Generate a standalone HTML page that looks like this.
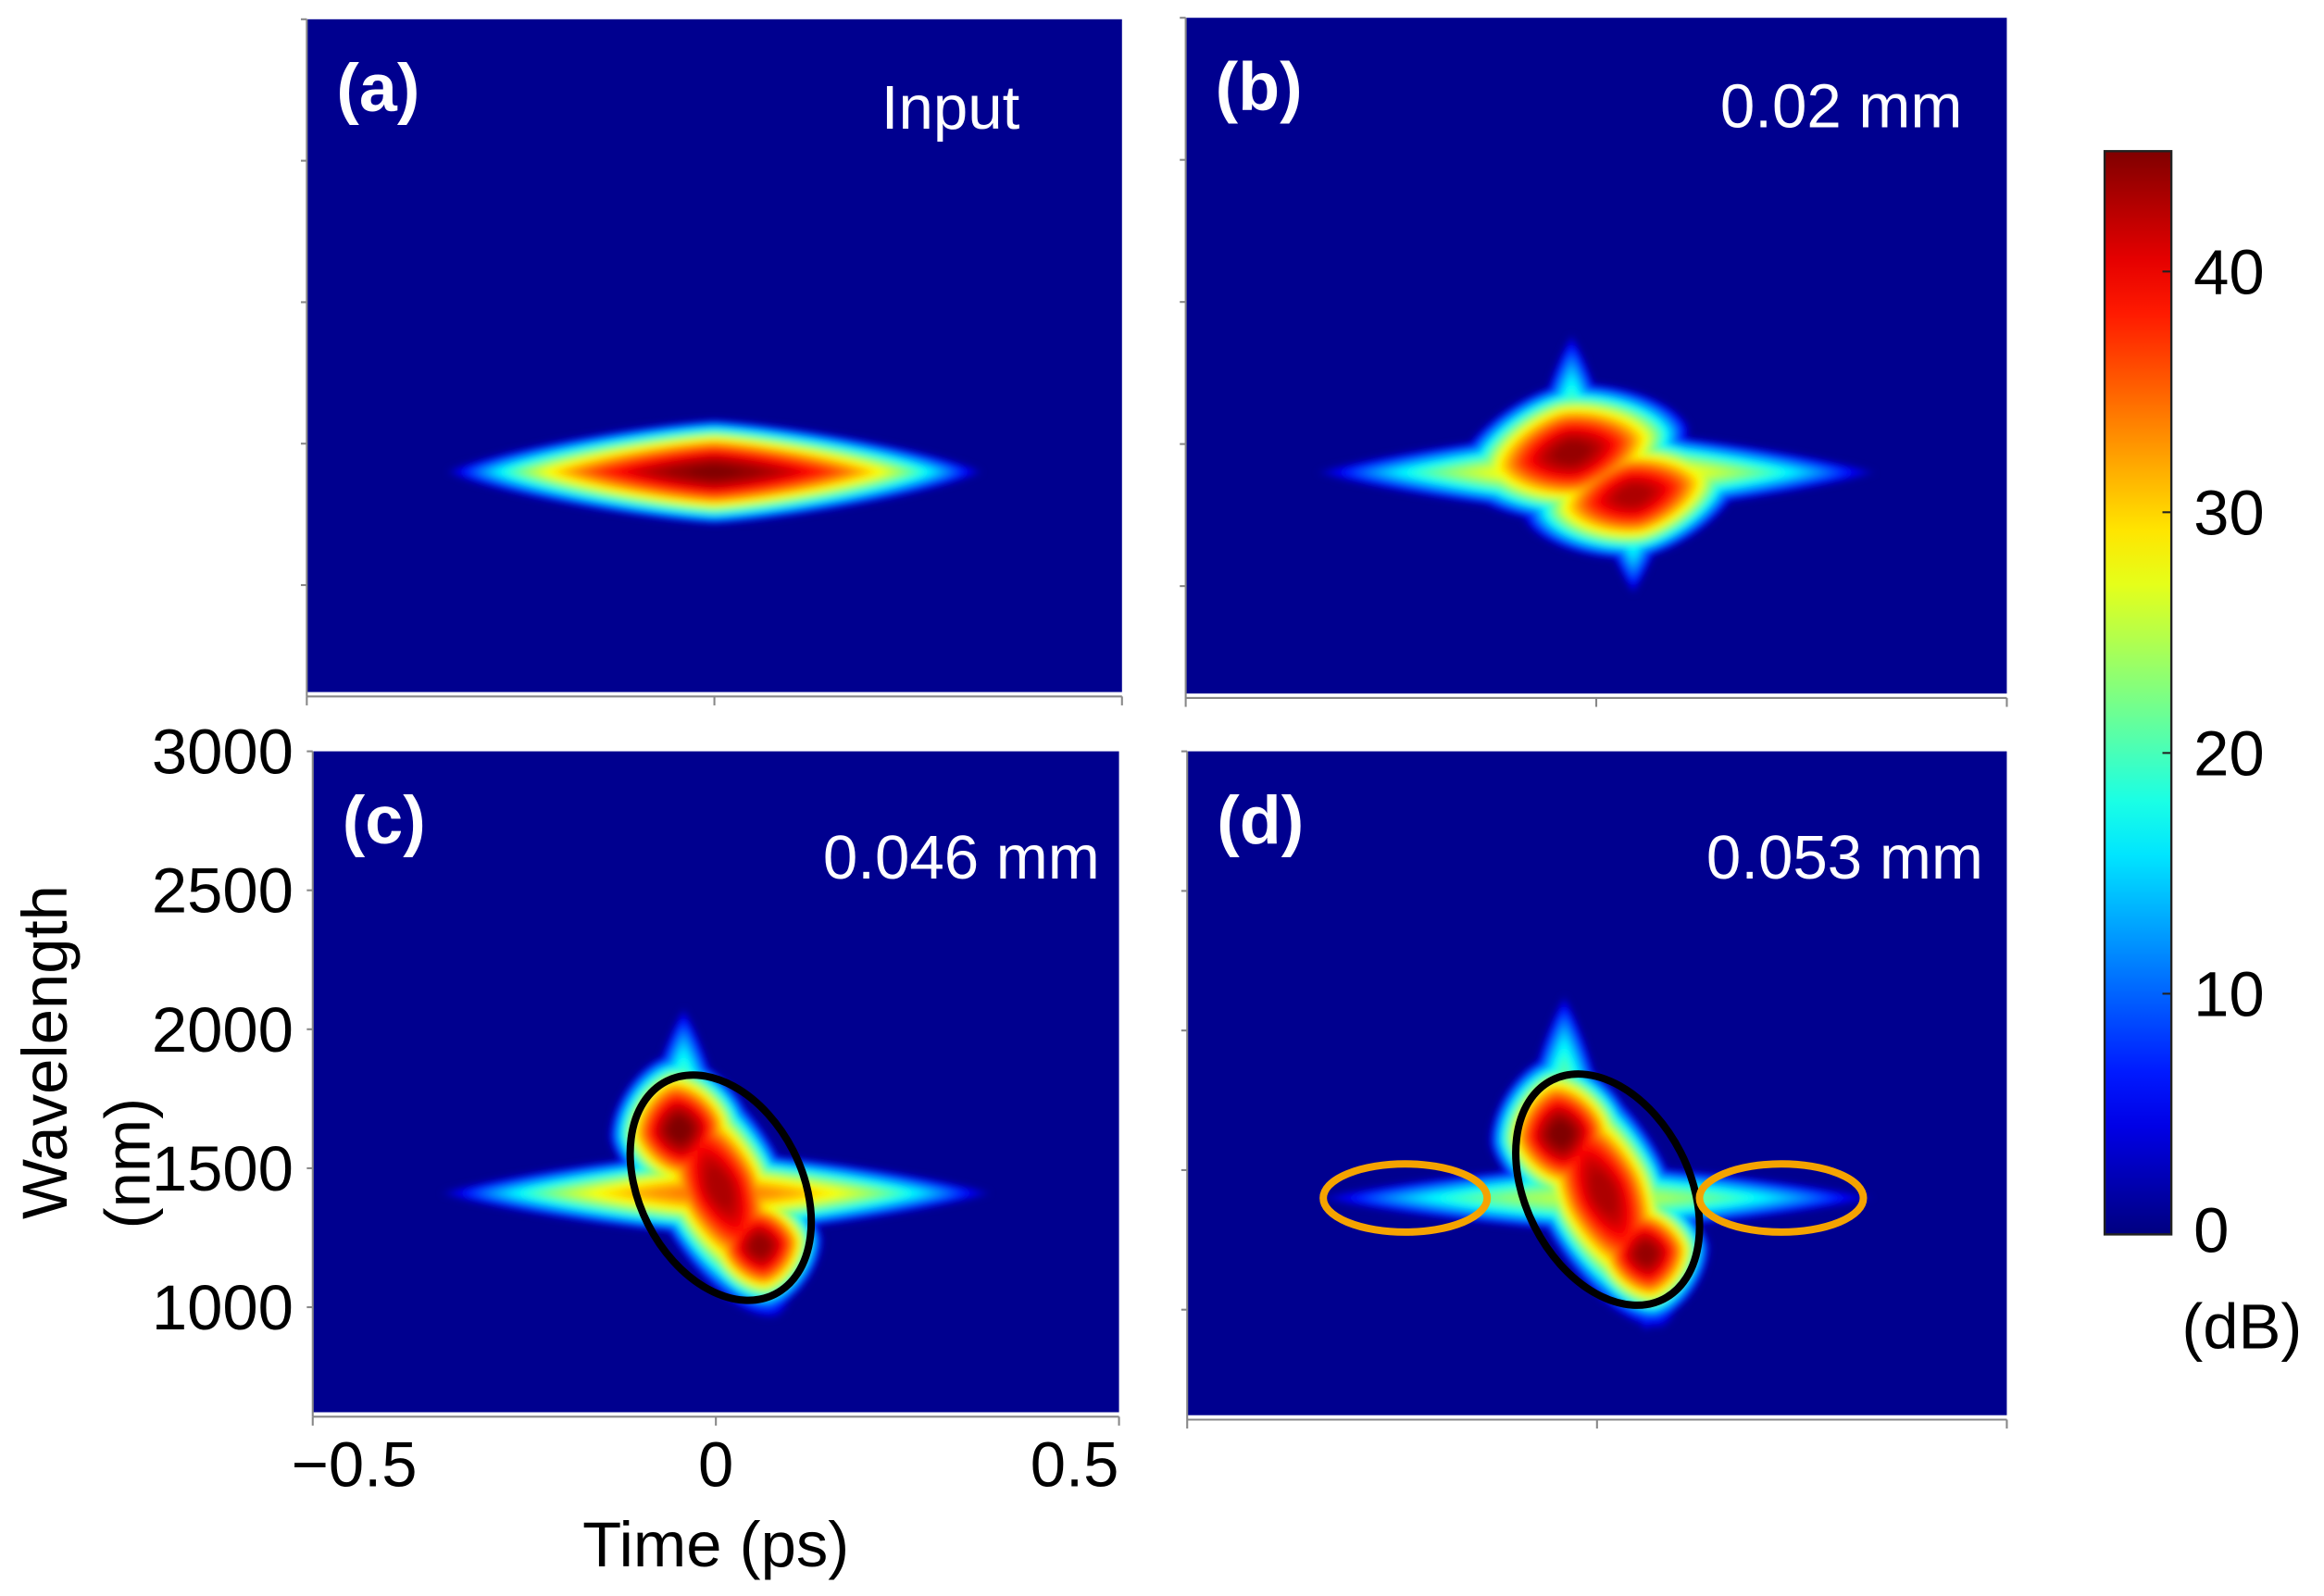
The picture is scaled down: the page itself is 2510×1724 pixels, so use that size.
<!DOCTYPE html>
<html><head><meta charset="utf-8"><style>
html,body{margin:0;padding:0;background:#fff;}
svg{display:block;font-family:"Liberation Sans",Arial,sans-serif;}
</style></head><body>
<svg id="fig" width="2510" height="1724" viewBox="0 0 1568 1077" preserveAspectRatio="none" xmlns="http://www.w3.org/2000/svg">
<defs>
<filter id="bl" x="-20%" y="-20%" width="140%" height="140%"><feGaussianBlur stdDeviation="2.4"/></filter>
<linearGradient id="cbg" x1="0" y1="1" x2="0" y2="0"></linearGradient>
</defs>
<g id="layer"></g>
</svg>
<script>
// ---- data ----
const panelIds = ['a','b','c','d'];
const panelLabels = ['(a)','(b)','(c)','(d)'];
const panelTitles = ['Input','0.02 mm','0.046 mm','0.053 mm'];
const yTicks = [1000,1500,2000,2500,3000];
const yTickLabels = ['1000','1500','2000','2500','3000'];
const xTicks = [-0.5,0,0.5];
const xTickLabels = ['\u22120.5','0','0.5'];
const cbTicks = [0,10,20,30,40];
const cbMax = 45;
// lobes per panel: t center (ps), wavelength center (nm), half-width (ps), half-height (nm), peak dB, rotation deg, shape roundness (1 = diamond, 2 = ellipse)
const lobesA_t=[0], lobesA_w=[1400], lobesA_a=[0.335], lobesA_b=[190], lobesA_pk=[45.5], lobesA_r=[0], lobesA_p=[1.3];
const lobesB_t=[0.0,-0.03,0.045,-0.03,0.045], lobesB_w=[1400,1470,1320,1560,1260], lobesB_a=[0.35,0.15,0.14,0.045,0.045], lobesB_b=[160,250,230,340,300], lobesB_pk=[32,45,44,22,22], lobesB_r=[0,-12,-12,0,0], lobesB_p=[1.25,1.6,1.6,1.2,1.2];
const lobesC_t=[0.0,0.005,-0.045,0.055,-0.04,0.05], lobesC_w=[1410,1430,1640,1220,1750,1200], lobesC_a=[0.35,0.085,0.09,0.08,0.045,0.045], lobesC_b=[160,520,280,240,340,220], lobesC_pk=[35,44,46,45,22,20], lobesC_r=[0,-24,-8,-8,0,0], lobesC_p=[1.25,1.7,1.6,1.6,1.2,1.2];
const lobesD_t=[0.0,0.008,-0.044,0.06,-0.04,0.06], lobesD_w=[1400,1420,1630,1200,1780,1150], lobesD_a=[0.35,0.085,0.09,0.08,0.045,0.045], lobesD_b=[130,540,290,250,360,240], lobesD_pk=[26,44,46,45,22,20], lobesD_r=[0,-24,-8,-8,0,0], lobesD_p=[1.25,1.7,1.6,1.6,1.2,1.2];
// annotation ellipses: panel index, t center, wavelength center, radius x (ps), radius y (nm), rotation deg, colour
const ellPanel=[2,3,3,3], ellT=[0.006,0.013,-0.234,0.225], ellW=[1430,1430,1400,1400], ellRx=[0.101,0.1,0.1,0.1], ellRy=[430,440,122,122], ellRot=[-27,-27,0,0], ellCol=['#000','#000','#f5a300','#f5a300'];

// ---- layout ----
const boxes=[{x:207,y:13,w:550,h:454},{x:800,y:12,w:554,h:456},{x:211,y:507,w:544,h:446},{x:801,y:507,w:553,h:448}];
const lamMin=622, lamMax=3000;
const lobeSets=[[lobesA_t,lobesA_w,lobesA_a,lobesA_b,lobesA_pk,lobesA_r,lobesA_p],[lobesB_t,lobesB_w,lobesB_a,lobesB_b,lobesB_pk,lobesB_r,lobesB_p],[lobesC_t,lobesC_w,lobesC_a,lobesC_b,lobesC_pk,lobesC_r,lobesC_p],[lobesD_t,lobesD_w,lobesD_a,lobesD_b,lobesD_pk,lobesD_r,lobesD_p]];
const NS='http://www.w3.org/2000/svg';
const layer=document.getElementById('layer');
function mk(tag,attrs,parent){const e=document.createElementNS(NS,tag);for(const k in attrs)e.setAttribute(k,attrs[k]);(parent||layer).appendChild(e);return e;}
function jet(v){v=Math.max(0,Math.min(1,v));const c=x=>Math.round(255*Math.max(0,Math.min(1,1.5-Math.abs(x))));return `rgb(${c(4*v-3)},${c(4*v-2)},${c(4*v-1)})`;}
function xS(b,t){return b.x+(t+0.5)*b.w;}
function yS(b,l){return b.y+(lamMax-l)/(lamMax-lamMin)*b.h;}

panelIds.forEach((pid,i)=>{
  const b=boxes[i];
  const g=mk('g',{});
  
  
  const bg=mk('rect',{x:b.x,y:b.y,width:b.w,height:b.h,fill:'#00008f'},g);
  
  
  const clipId='clip'+pid;
  const cp=mk('clipPath',{id:clipId},g);mk('rect',{x:b.x,y:b.y,width:b.w,height:b.h},cp);
  const heat=mk('g',{'clip-path':`url(#${clipId})`,filter:'url(#bl)'},g);
  
  
  const L=lobeSets[i];
  const n=L[0].length;
  const pxT=b.w, pxL=b.h/(lamMax-lamMin);
  for(let lev=2;lev<=46;lev+=1){
    for(let k=0;k<n;k++){
      const pk=L[4][k]; if(lev>=pk) continue;
      const s=Math.sqrt(1-lev/pk);
      const a=L[2][k]*pxT*s, bb=L[3][k]*pxL*s, p=L[6][k];
      const cx=xS(b,L[0][k]), cy=yS(b,L[1][k]);
      const rot=L[5][k]*Math.PI/180;
      const ex=2/p;
      let pts=[];
      for(let j=0;j<120;j++){
        const th=j/120*2*Math.PI, c=Math.cos(th), sn=Math.sin(th);
        const px=a*Math.sign(c)*Math.pow(Math.abs(c),ex), py=bb*Math.sign(sn)*Math.pow(Math.abs(sn),ex);
        const rx=px*Math.cos(rot)-py*Math.sin(rot), ry=px*Math.sin(rot)+py*Math.cos(rot);
        pts.push((cx+rx).toFixed(1)+','+(cy+ry).toFixed(1));
      }
      const poly=mk('polygon',{points:pts.join(' '),fill:jet(lev/cbMax)},heat);
      
      
    }
  }
  const ax=mk('g',{stroke:'#888','stroke-width':1.3,fill:'none'},g);
  
  
  mk('line',{x1:b.x,y1:b.y,x2:b.x,y2:b.y+b.h+3},ax);
  mk('line',{x1:b.x,y1:b.y+b.h+3,x2:b.x+b.w,y2:b.y+b.h+3},ax);
  yTicks.forEach(v=>{const y=yS(b,v);mk('line',{x1:b.x-4,y1:y,x2:b.x,y2:y},ax);});
  xTicks.forEach(v=>{const x=xS(b,v);mk('line',{x1:x,y1:b.y+b.h+3,x2:x,y2:b.y+b.h+9},ax);});
  const lab=mk('text',{x:b.x+20,y:b.y+62,fill:'#fff','font-size':46,'font-weight':'bold'},g);
  lab.textContent=panelLabels[i];
  
  
  const tt=mk('text',{x:b.x+b.w-(i==0?69:i==2?13:i==1?30:16),y:b.y+(i<2?74:86),fill:'#fff','font-size':42,'text-anchor':'end'},g);
  tt.textContent=panelTitles[i];
  
  
});
ellPanel.forEach((pi,k)=>{
  const b=boxes[pi];
  const cx=xS(b,ellT[k]), cy=yS(b,ellW[k]);
  const e=mk('ellipse',{cx:cx,cy:cy,rx:(ellRx[k]*b.w).toFixed(1),ry:(ellRy[k]*b.h/(lamMax-lamMin)).toFixed(1),transform:`rotate(${ellRot[k]} ${cx} ${cy})`,fill:'none',stroke:ellCol[k],'stroke-width':5});
  
  
});
const bc=boxes[2];
yTicks.forEach((v,k)=>{const t=mk('text',{x:198,y:yS(bc,v)+15,'font-size':43,'text-anchor':'end',fill:'#000'});t.textContent=yTickLabels[k];

});
xTicks.forEach((v,k)=>{const x=xS(bc,v)+(k==0?28:k==2?-30:0);const t=mk('text',{x:x,y:1003,'font-size':43,'text-anchor':'middle',fill:'#000'});t.textContent=xTickLabels[k];

});
let t1=mk('text',{x:483,y:1057,'font-size':43,'text-anchor':'middle',fill:'#000'});t1.textContent='Time (ps)';


let t2=mk('text',{x:0,y:0,'font-size':43,'text-anchor':'middle',fill:'#000',transform:'translate(45,710) rotate(-90)'});t2.textContent='Wavelength';


let t3=mk('text',{x:0,y:0,'font-size':43,'text-anchor':'middle',fill:'#000',transform:'translate(101,785) rotate(-90)'});t3.textContent='(nm)';


const grad=document.getElementById('cbg');
for(let s=0;s<=20;s++){mk('stop',{offset:s/20,'stop-color':jet(s/20)},grad);}
const cb={x:1420,y:102,w:45,h:731};
const cbr=mk('rect',{x:cb.x,y:cb.y,width:cb.w,height:cb.h,fill:'url(#cbg)',stroke:'#222','stroke-width':1.5});


cbTicks.forEach(v=>{const y=cb.y+cb.h-v/cbMax*cb.h;
const tk=mk('line',{x1:cb.x+cb.w-6,y1:y,x2:cb.x+cb.w,y2:y,stroke:'#222','stroke-width':1.3});


const t=mk('text',{x:1480,y:y+(v==0?12:15),'font-size':43,fill:'#000'});t.textContent=String(v);

});
let t4=mk('text',{x:1472,y:910,'font-size':43,fill:'#000'});t4.textContent='(dB)';


</script>
</body></html>
